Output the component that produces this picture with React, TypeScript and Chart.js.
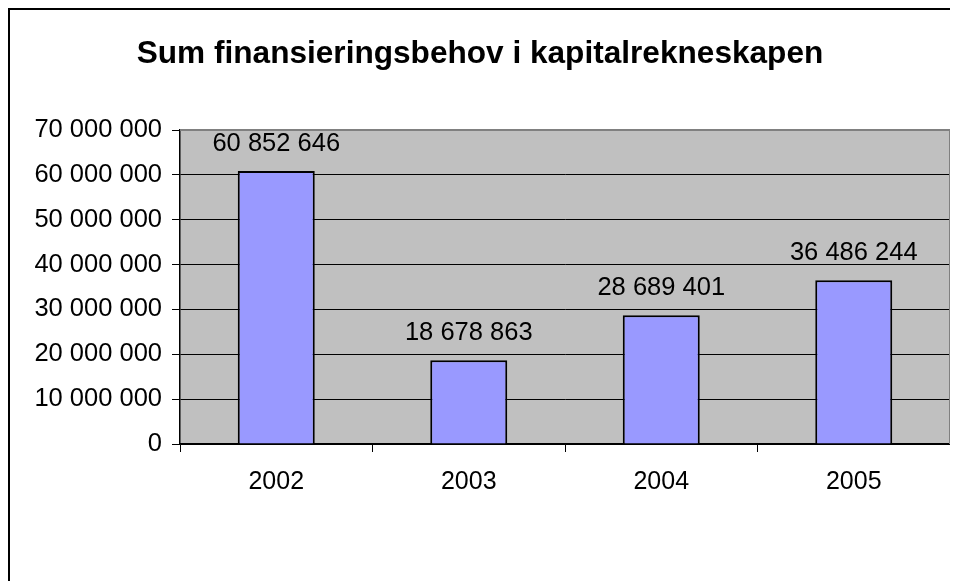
import React, { useEffect, useRef } from "react";
import { Chart, registerables } from "chart.js";

Chart.register(...registerables);

const TITLE = "Sum finansieringsbehov i kapitalrekneskapen";
const CATEGORIES = ["2002", "2003", "2004", "2005"];
const VALUES = [60852646, 18678863, 28689401, 36486244];
const Y_MIN = 0;
const Y_MAX = 70000000;
const Y_STEP = 10000000;

const FONT = "'Liberation Sans', Arial, sans-serif";

function fmt(v: number): string {
  return String(Math.round(v)).replace(/\B(?=(\d{3})+(?!\d))/g, " ");
}

const plotBg = {
  id: "plotBg",
  beforeDraw(chart: any) {
    const { ctx, chartArea } = chart;
    ctx.save();
    ctx.fillStyle = "#C0C0C0";
    ctx.fillRect(chartArea.left, chartArea.top, chartArea.right - chartArea.left, chartArea.bottom - chartArea.top);
    ctx.restore();
  },
  afterDraw(chart: any) {
    const { ctx, chartArea } = chart;
    ctx.save();
    ctx.strokeStyle = "#808080";
    ctx.lineWidth = 2;
    ctx.beginPath();
    ctx.moveTo(chartArea.left, chartArea.top);
    ctx.lineTo(chartArea.right, chartArea.top);
    ctx.lineTo(chartArea.right, chartArea.bottom);
    ctx.stroke();
    ctx.restore();
  },
};

const valueLabels = {
  id: "valueLabels",
  afterDatasetsDraw(chart: any) {
    const { ctx } = chart;
    const meta = chart.getDatasetMeta(0);
    ctx.save();
    ctx.font = `25.5px ${FONT}`;
    ctx.fillStyle = "#000";
    ctx.textAlign = "center";
    ctx.textBaseline = "alphabetic";
    meta.data.forEach((bar: any, i: number) => {
      ctx.fillText(fmt(VALUES[i]), bar.x, bar.y - 20);
    });
    ctx.restore();
  },
};

export default function App() {
  const ref = useRef<HTMLCanvasElement>(null);
  useEffect(() => {
    document.documentElement.style.overflow = "hidden";
    const chart = new Chart(ref.current!, {
      type: "bar",
      data: {
        labels: CATEGORIES,
        datasets: [
          {
            data: VALUES,
            backgroundColor: "#9999FF",
            borderColor: "#000000",
            borderWidth: 2,
            barPercentage: 0.4,
            categoryPercentage: 1,
          },
        ],
      },
      options: {
        animation: false,
        responsive: false,
        maintainAspectRatio: false,
        layout: { padding: { left: 0, right: 8, top: 0, bottom: 0 } },
        plugins: {
          legend: { display: false },
          tooltip: { enabled: false },
          title: {
            display: true,
            text: TITLE,
            color: "#000",
            font: { family: FONT, size: 31.6, weight: "bold" },
            padding: { top: 25, bottom: 57.08 },
          },
        },
        scales: {
          x: {
            grid: {
              display: true,
              drawOnChartArea: false,
              drawTicks: true,
              tickLength: 8,
              tickColor: "#000",
              color: "#000",
            },
            border: { display: true, color: "#000", width: 1.5 },
            ticks: {
              color: "#000",
              font: { family: FONT, size: 25 },
              padding: 15,
            },
            afterFit: (scale: any) => {
              scale.height = 137;
            },
          },
          y: {
            min: Y_MIN,
            max: Y_MAX,
            grid: {
              color: (c: any) => (c.tick && c.tick.value === Y_MAX ? "rgba(0,0,0,0)" : "#000"),
              tickColor: "#000",
              tickLength: 8,
              lineWidth: 1,
            },
            border: { display: true, color: "#000", width: 1.5 },
            ticks: {
              stepSize: Y_STEP,
              color: "#000",
              font: { family: FONT, size: 25.5 },
              padding: 10,
              callback: (v: any) => fmt(Number(v)),
            },
            afterFit: (scale: any) => {
              scale.width = 170;
            },
          },
        },
      },
      plugins: [plotBg, valueLabels],
    });
    return () => chart.destroy();
  }, []);

  return (
    <div
      style={{
        width: 1000,
        height: 700,
        border: "2px solid #000",
        boxSizing: "border-box",
        overflow: "hidden",
        background: "#fff",
      }}
    >
      <canvas ref={ref} width={948} height={571} style={{ display: "block" }} />
    </div>
  );
}
